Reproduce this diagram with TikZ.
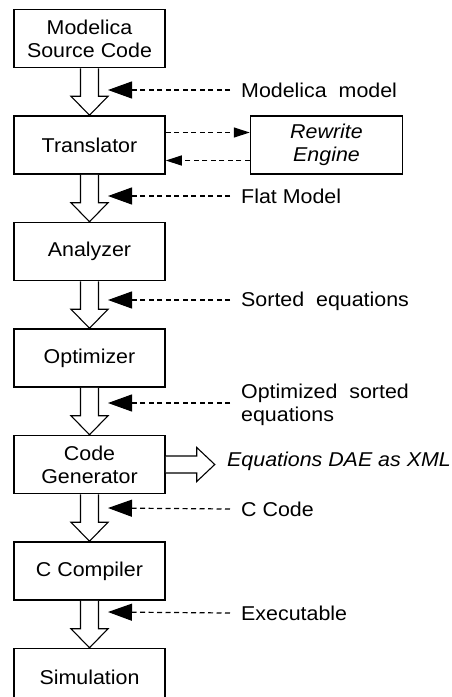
\documentclass[tikz,border=0pt]{standalone}
\usepackage{fontspec}
\setmainfont[FakeStretch=1.07]{Liberation Sans}
\usetikzlibrary{arrows.meta,positioning,calc}

\newcommand{\fatdown}[2]{%
  \draw[fat] ($(#1.south)+(-9,0)$) -- ($(#2.north)+(-9,-19)$) -- ++(-9.5,0)
    -- (#2.north) -- ($(#2.north)+(18.5,-19)$) -- ++(-9.5,0) -- ($(#1.south)+(9,0)$);}

\begin{document}
\begin{tikzpicture}[x=1pt,y=-1pt, node distance=47pt and 84pt,
every node/.style={font=\fontsize{20pt}{23pt}\selectfont},
stage/.style={draw,line width=1.5pt,minimum width=151pt,minimum height=58pt,align=center,inner sep=0pt},
fat/.style={draw,line width=1.1pt,fill=white,line join=miter},
feed/.style={dash pattern=on 5pt off 3.5pt,line width=1.2pt,-{Triangle[length=24pt,width=17pt]}},
link/.style={dash pattern=on 5pt off 3.5pt,line width=1.2pt,-{Triangle[length=16pt,width=10pt]}},
tag/.style={anchor=west,align=left,inner sep=0pt}]
\useasboundingbox (0,0) rectangle (451,697);
% pipeline
\node[stage] (source) at (89.5,38.5) {Modelica\\Source Code};
\node[stage,below=of source] (translator) {Translator};
\node[stage,below=of translator] (analyzer) {Analyzer};
\node[stage,below=of analyzer] (optimizer) {Optimizer};
\node[stage,below=of optimizer] (codegen) {Code\\Generator};
\node[stage,below=of codegen] (compiler) {C Compiler};
\node[stage,below=of compiler] (simulation) {Simulation};
\node[stage,right=of translator,minimum width=152pt,font=\fontsize{20pt}{23pt}\selectfont\itshape] (rewrite) {Rewrite\\Engine};
\fatdown{source}{translator}
\fatdown{translator}{analyzer}
\fatdown{analyzer}{optimizer}
\fatdown{optimizer}{codegen}
\fatdown{codegen}{compiler}
\fatdown{compiler}{simulation}
% translator <-> rewrite engine
\draw[link] ([yshift=12.5pt]translator.east) -- ([yshift=12.5pt]rewrite.west);
\draw[link] ([yshift=-15.5pt]rewrite.west) -- ([yshift=-15.5pt]translator.east);
% intermediate results
\node[tag] (lmodel) at (241,90) {Modelica~~model};
\node[tag] (lflat) at (241,196) {Flat Model};
\node[tag] (lsorted) at (241,301) {Sorted~~equations};
\node[tag] (lopt) at (241,405) {Optimized~~sorted\\equations};
\node[tag] (lccode) at (241,509) {C Code};
\node[tag] (lexe) at (241,613) {Executable};
\coordinate (pmodel) at (108,90);
\coordinate (pflat) at (108,196);
\coordinate (psorted) at (108,300);
\coordinate (popt) at (108,403);
\coordinate (pccode) at (108,508);
\coordinate (pexe) at (108,612);
\draw[feed] ([xshift=-11pt]lmodel.west) -- (pmodel);
\draw[feed] ([xshift=-11pt]lflat.west) -- (pflat);
\draw[feed] ([xshift=-11pt,yshift=1pt]lsorted.west) -- (psorted);
\draw[feed] ([xshift=-11pt,yshift=2pt]lopt.west) -- (popt);
\draw[feed] ([xshift=-11pt]lccode.west) -- (pccode);
\draw[feed] ([xshift=-11pt]lexe.west) -- (pexe);
% xml output
\node[tag,font=\fontsize{20pt}{23pt}\selectfont\itshape] (lxml) at (227,461) {Equations DAE as XML};
\draw[fat] ($(codegen.east)+(0,-8.5)$) -- ++(31,0) -- ++(0,-8.5) -- ($(codegen.east)+(49,0)$)
  -- ++(-18,17) -- ++(0,-8.5) -- ($(codegen.east)+(0,8.5)$);
\end{tikzpicture}
\end{document}
